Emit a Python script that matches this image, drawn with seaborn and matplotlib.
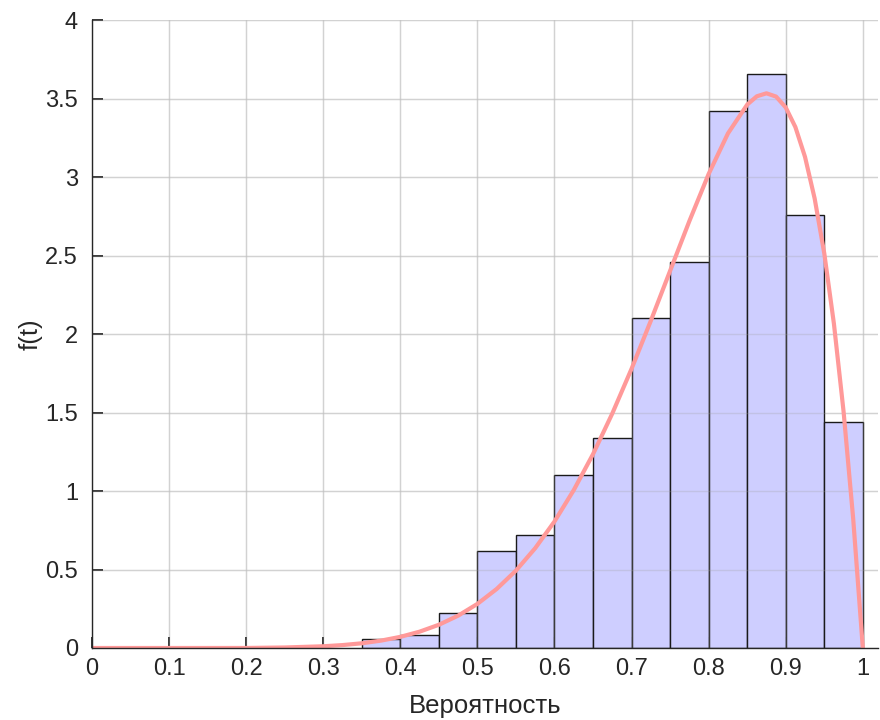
import numpy as np
import pandas as pd
import matplotlib
matplotlib.use("Agg")
import matplotlib.pyplot as plt
import seaborn as sns

# histogram bins (width 0.05) and density heights
bin_left = [0.35, 0.40, 0.45, 0.50, 0.55, 0.60, 0.65, 0.70, 0.75, 0.80, 0.85, 0.90, 0.95]
density = [0.06, 0.08, 0.22, 0.62, 0.72, 1.10, 1.34, 2.10, 2.46, 3.42, 3.66, 2.76, 1.44]

# fitted curve, points
curve_x = [0.0, 0.1, 0.2, 0.25, 0.3, 0.325, 0.35, 0.375, 0.4, 0.425, 0.45, 0.475,
           0.5, 0.525, 0.55, 0.575, 0.6, 0.625, 0.65, 0.675, 0.7, 0.725, 0.75,
           0.775, 0.8, 0.825, 0.85, 0.8625, 0.875, 0.8875, 0.9, 0.9125, 0.925,
           0.9375, 0.95, 0.9625, 0.975, 0.9875, 1.0]
curve_y = [0.0, 0.0, 0.0002, 0.0033, 0.011, 0.0186, 0.030, 0.047, 0.071, 0.104, 0.148, 0.206,
           0.281, 0.376, 0.493, 0.636, 0.806, 1.006, 1.235, 1.494, 1.779, 2.085, 2.403,
           2.720, 3.020, 3.278, 3.462, 3.515, 3.534, 3.513, 3.444, 3.319, 3.129,
           2.864, 2.514, 2.066, 1.508, 0.824, 0.0]

xtick_labels = ["0", "0.1", "0.2", "0.3", "0.4", "0.5", "0.6", "0.7", "0.8", "0.9", "1"]
ytick_labels = ["0", "0.5", "1", "1.5", "2", "2.5", "3", "3.5", "4"]

bin_w = 0.05
edges = list(bin_left) + [bin_left[-1] + bin_w]
centers = [b + bin_w / 2 for b in bin_left]

df = pd.DataFrame({"x": centers, "d": density})
cdf = pd.DataFrame({"t": curve_x, "f": curve_y})

sns.set_theme(style="white")
plt.rcParams["font.family"] = ["Liberation Sans", "DejaVu Sans"]

fig = plt.figure(figsize=(8.8, 7.2), dpi=100)
ax = fig.add_axes([0.1045, 0.1, 0.8935, 0.872])

ax.grid(True, color="#e3e3e3", linewidth=1.0)
ax.set_axisbelow(True)

sns.histplot(data=df, x="x", weights="d", bins=edges, stat="count",
             color="#ccccff", alpha=0.95, edgecolor="#1a1a1a", linewidth=1.0, ax=ax, zorder=1)
# faint grid showing through the translucent bars
for gx in np.arange(0.1, 1.01, 0.1):
    ax.axvline(gx, color="#a0a0a0", alpha=0.25, linewidth=1.0, zorder=2)
for gy in np.arange(0.5, 4.01, 0.5):
    ax.axhline(gy, color="#a0a0a0", alpha=0.25, linewidth=1.0, zorder=2)

sns.lineplot(data=cdf, x="t", y="f", color="#ff9999", linewidth=3.0, ax=ax, zorder=3)

ax.set_xlim(0, 1.02)
ax.set_ylim(0, 4)
ax.set_xticks(np.arange(0, 1.01, 0.1))
ax.set_xticklabels(xtick_labels)
ax.set_yticks(np.arange(0, 4.01, 0.5))
ax.set_yticklabels(ytick_labels)
ax.tick_params(direction="in", length=8, width=1.3, colors="#262626", labelsize=17,
               bottom=True, left=True)
ax.tick_params(axis="x", pad=7)
ax.tick_params(axis="y", pad=10)
ax.set_xlabel("Вероятность", fontsize=18.5, color="#262626", labelpad=10)
ax.set_ylabel("f(t)", fontsize=18.5, color="#262626", labelpad=2)

for s in ["top", "right"]:
    ax.spines[s].set_visible(False)
for s in ["left", "bottom"]:
    ax.spines[s].set_color("#262626")
    ax.spines[s].set_linewidth(1.0)
    ax.spines[s].set_zorder(4)

fig.savefig("out.png", dpi=100)
